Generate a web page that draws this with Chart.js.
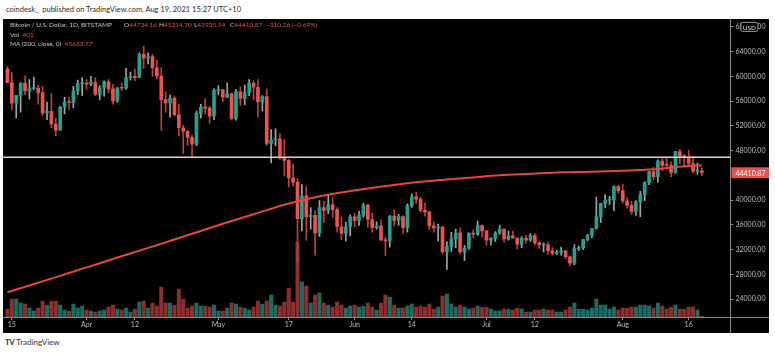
<!DOCTYPE html>
<html>
<head>
<meta charset="utf-8">
<script src="https://cdn.jsdelivr.net/npm/chart.js@4.4.0/dist/chart.umd.min.js"></script>
<style>
html, body { margin: 0; padding: 0; background: #fff; }
body { width: 775px; height: 353px; position: relative; overflow: hidden; font-family: Lato, "Open Sans", sans-serif; }
#head { position: absolute; left: 6px; top: 4.5px; font-size: 7.5px; color: #2b2b2b; white-space: nowrap; }
#panel { position: absolute; left: 3px; top: 19px; width: 766px; height: 314px; background: #000; }
#panel canvas { position: absolute; left: 0; top: 0; }
.leg { position: absolute; font-size: 6.5px; color: #c8c8c8; white-space: nowrap; line-height: 9px; }
.v { color: #e5524d; }
#foot { position: absolute; left: 5px; top: 337px; font-size: 8px; color: #333; white-space: nowrap; }
#foot b { font-size: 8px; letter-spacing: -0.5px; margin-right: 2px; }
</style>
</head>
<body>
<div id="head">coindesk_&nbsp; published on TradingView.com, Aug 19, 2021 15:27 UTC+10</div>
<div id="panel"><canvas id="chart" width="766" height="314"></canvas></div>
<div class="leg" style="left:10px;top:20px">Bitcoin / U.S. Dollar, 1D, BITSTAMP</div>
<div class="leg" style="left:124px;top:20px">O<span class="v">44734.16</span></div>
<div class="leg" style="left:159px;top:20px">H<span class="v">45214.70</span></div>
<div class="leg" style="left:194px;top:20px">L<span class="v">43935.54</span></div>
<div class="leg" style="left:230px;top:20px">C<span class="v">44410.87</span></div>
<div class="leg v" style="left:266px;top:20px">−310.26 (−0.69%)</div>
<div class="leg" style="left:10px;top:29.5px">Vol&nbsp; <span class="v">401</span></div>
<div class="leg" style="left:10px;top:39px">MA (200, close, 0)&nbsp; <span class="v">45633.77</span></div>
<div id="foot"><b>TV</b>TradingView</div>
<script>
// BTC/USD daily, Bitstamp, 14 Mar - 19 Aug 2021
var opens = [
  61170,59000,55650,56930,58920,57650,58030,58100,57380,54100,54360,52300,51310,55050,55850,55780,57630,58780,
  58800,58740,58990,57080,58200,59120,57970,56050,58100,58080,59800,59960,59840,63580,62960,63220,61380,60030,56250,55700,56490,53800,51700,51150,50110,49040,54030,55050,54860,53560,
  57700,57830,56620,57180,53210,57500,56440,57380,58900,58240,55860,56740,49150,49710,49900,46760,46430,43580,42900,37000,40700,37300,37520,34700,38800,38320,39240,38470,35680,34640,35680,
  37300,36690,37570,39190,36850,35520,35800,33570,33400,37390,36690,37340,35550,39100,40530,40150,38340,38090,35830,35500,35620,31630,32510,33690,34690,31620,32240,34680,34480,35880,
  35030,33530,33800,34690,35290,33700,34210,33860,32880,33810,33510,34250,33080,32730,32820,31800,31390,31520,31780,30830,29800,32140,32310,33600,34270,35400,37270,39460,40000,40030,42200,
  41500,39850,39150,38180,39720,40870,42840,44600,43800,46300,45600,45590,44430,47840,47110,47010,45910,44690,44734.16
];
var highs = [
  61600,60600,56900,58950,60100,59500,59900,58600,58400,55850,57200,53200,55100,56600,56600,58400,59400,59800,
  59500,60000,59800,58500,59300,59500,58700,58200,58900,61300,60700,61200,63800,64900,63800,63550,62600,61400,57500,57000,56800,55500,52100,51200,50500,54400,55500,56400,55200,58000,
  58500,57900,58900,57200,57900,58300,58600,59500,59300,59500,56900,58000,51400,51500,50700,49800,46600,45800,43500,42500,42200,38800,38300,39900,39800,40800,40400,38800,37300,36400,37600,
  37900,38200,39500,39300,37900,36500,36800,34000,37500,38400,37700,37500,39400,41000,41300,40500,39500,38200,36500,36100,35750,33300,34800,35300,35500,32700,34700,35200,36600,36000,
  35100,33950,34900,35900,35300,35000,35000,33900,34100,34300,34600,34600,33300,33100,33200,32300,31900,32400,31900,31000,32800,32600,33600,34500,35400,40500,39500,40900,40600,42300,42400,
  42600,40400,39800,39900,41400,43000,44700,45300,46500,46700,46800,46200,47900,48200,47400,48100,47100,46000,45214.70
];
var lows = [
  58950,54600,53300,54200,57000,56300,57800,55500,53700,53000,51700,50400,51300,53950,54700,54900,57050,56900,
  57900,58500,56900,56200,56800,57400,55500,55800,57700,57900,59400,59300,59800,61300,62000,60000,59600,51300,54200,53400,53600,50400,47500,48800,46900,48800,53300,53900,52400,53000,
  57000,55900,56500,53000,52900,55300,55400,56900,56200,53400,54400,48800,46000,48800,46600,43900,42100,42300,30000,35000,33500,35300,31100,34100,36400,37800,37200,34800,33600,33400,34200,
  35700,35900,37200,35600,34800,35300,33400,31000,32400,35800,35900,34600,34800,38800,39500,38100,37400,35200,34800,33400,31300,28800,31700,32300,31300,30200,32000,33900,34300,34000,
  32700,32700,33300,34500,33200,33500,33800,32100,32300,33000,33300,32700,32200,31600,31200,31100,31200,31100,30500,29300,29500,31800,32000,33400,33900,35300,36400,38800,39300,38300,41100,
  39500,38700,37700,37500,37300,39900,42500,43300,42900,44700,45400,43800,44300,45900,45600,45500,44400,44200,43935.54
];
var closes = [
  59000,55650,56930,58920,57650,58030,58100,57380,54100,54360,52300,51310,55050,55850,55780,57630,58780,58800,
  58740,58990,57080,58200,59120,57970,56050,58100,58080,59800,59960,59840,63580,62960,63220,61380,60030,56250,55700,56490,53800,51700,51150,50110,49040,54030,55050,54860,53560,57700,
  57830,56620,57180,53210,57500,56440,57380,58900,58240,55860,56740,49150,49710,49900,46760,46430,43580,42900,37000,40700,37300,37520,34700,38800,38320,39240,38470,35680,34640,35680,37300,
  36690,37570,39190,36850,35520,35800,33570,33400,37390,36690,37340,35550,39100,40530,40150,38340,38090,35830,35500,35620,31630,32510,33690,34690,31620,32240,34680,34480,35880,35030,
  33530,33800,34690,35290,33700,34210,33860,32880,33810,33510,34250,33080,32730,32820,31800,31390,31520,31780,30830,29800,32140,32310,33600,34270,35400,37270,39460,40000,40030,42200,41500,
  39850,39150,38180,39720,40870,42840,44600,43800,46300,45600,45590,44430,47840,47110,47010,45910,44690,44730,44410.87
];
// volume in BTC
var volumes = [
  4000,9000,9000,7000,6500,4500,3000,4500,8000,6000,8000,8000,6000,3500,3000,6500,4500,5500,
  3500,3000,2500,3000,3500,5000,6000,4000,3500,4500,2500,4000,7500,8000,4500,7000,5500,15000,7000,7000,6000,14000,9000,4500,5500,7000,5500,5500,5000,6000,
  3000,3000,4500,7000,6500,5000,4500,3500,5000,8000,6500,8000,11000,6000,5500,7500,14500,7500,37500,17500,15500,7000,11000,12000,7000,6000,5000,7500,6000,4500,5500,
  6000,5000,5500,7000,5000,3500,7000,11000,10000,6000,4500,4500,5500,6500,5000,5500,5000,6500,4000,5000,10500,11500,6500,5000,6000,5000,4000,4500,5500,5000,
  5000,4000,3000,3000,4000,4000,3500,4500,4000,2500,2500,3500,3500,4000,3500,3500,2500,2500,3500,5000,7000,4000,4000,3500,4500,9000,6000,6000,4000,5000,3500,
  4500,4500,5000,5000,6000,6000,5500,4500,7000,5500,4000,5000,6000,4000,4000,5000,5000,3500,401
];
// MA (200) read at weekly points
var maDates = ['2021-03-14','2021-03-21','2021-03-28','2021-04-04','2021-04-11','2021-04-18','2021-04-25','2021-05-02',
  '2021-05-09','2021-05-16','2021-05-23','2021-05-30','2021-06-06','2021-06-13','2021-06-20','2021-06-27','2021-07-04',
  '2021-07-11','2021-07-18','2021-07-25','2021-08-01','2021-08-08','2021-08-15','2021-08-19'];
var maValues = [25100,26630,28200,29790,31370,32940,34550,36170,37700,39240,40450,41340,42070,42710,43200,43600,44010,
  44250,44490,44570,44730,44980,45460,45634];
var levelLine = 46920;
var priceTicks = [24000,28000,32000,36000,40000,48000,52000,56000,60000,64000,68000];
var tickDates = ['2021-03-15','2021-04-01','2021-04-12','2021-05-01','2021-05-17','2021-06-01','2021-06-14','2021-07-01','2021-07-12','2021-08-01','2021-08-16'];
var tickTexts = ['15','Apr','12','May','17','Jun','14','Jul','12','Aug','16'];
var padDays = 6;

var labels = [];
var day0 = Date.UTC(2021, 2, 14);
for (var i = 0; i < closes.length + padDays; i++) {
  labels.push(new Date(day0 + i * 86400000).toISOString().slice(0, 10));
}

var upColor = '#23a08f', downColor = '#ea5450';
var upWick = '#98aaa6', downWick = '#b8443f';
var volUp = '#1c6b62', volDown = '#8a2e2e';
var axisGrey = '#8a8a8a', textGrey = '#bdbdbd';
var font = { family: 'Lato, "Open Sans", sans-serif', size: 7 };

var isUp = closes.map(function (c, i) { return c >= opens[i]; });

var overlay = {
  id: 'overlay',
  afterDraw: function (chart) {
    var ctx = chart.ctx, area = chart.chartArea, y = chart.scales.y;
    var W = chart.width, H = chart.height;
    ctx.save();
    // panel separators
    ctx.strokeStyle = axisGrey;
    ctx.lineWidth = 1;
    ctx.beginPath();
    ctx.moveTo(Math.round(area.right) + 0.5, 0);
    ctx.lineTo(Math.round(area.right) + 0.5, H);
    ctx.moveTo(0, Math.round(area.bottom) + 0.5);
    ctx.lineTo(W, Math.round(area.bottom) + 0.5);
    ctx.stroke();
    // horizontal level
    var ly = y.getPixelForValue(levelLine);
    ctx.strokeStyle = '#d8d8d8';
    ctx.lineWidth = 1.5;
    ctx.beginPath();
    ctx.moveTo(area.left - 2, ly);
    ctx.lineTo(area.right, ly);
    ctx.stroke();
    // last price tag
    var last = closes[closes.length - 1];
    var py = y.getPixelForValue(last);
    ctx.fillStyle = '#e5524d';
    ctx.fillRect(area.right + 1, py - 5.5, W - area.right - 1, 11);
    ctx.fillStyle = '#fff';
    ctx.font = '7px ' + font.family;
    ctx.textBaseline = 'middle';
    ctx.fillText(last.toFixed(2), area.right + 5, py + 0.5);
    // USD box
    var uy = y.getPixelForValue(68000);
    ctx.fillStyle = '#000';
    ctx.strokeStyle = '#9a9a9a';
    ctx.lineWidth = 1;
    ctx.beginPath();
    ctx.roundRect(area.right + 10.5, uy - 4.5, 17, 9, 2);
    ctx.fill();
    ctx.stroke();
    ctx.fillStyle = '#e0e0e0';
    ctx.font = '6.5px ' + font.family;
    ctx.textAlign = 'center';
    ctx.fillText('USD', area.right + 19, uy + 0.5);
    ctx.restore();
  }
};

new Chart(document.getElementById('chart'), {
  type: 'bar',
  data: {
    labels: labels,
    datasets: [
      {
        label: 'Volume', data: volumes, yAxisID: 'yv', grouped: false, order: 5,
        backgroundColor: isUp.map(function (u) { return u ? volUp : volDown; }),
        barThickness: 3.4, borderWidth: 0
      },
      {
        label: 'Wick', data: lows.map(function (l, i) { return [l, highs[i]]; }), yAxisID: 'y', grouped: false, order: 4,
        backgroundColor: isUp.map(function (u) { return u ? upWick : downWick; }),
        barThickness: 1, borderWidth: 0
      },
      {
        label: 'Body', data: opens.map(function (o, i) { return [o, closes[i]]; }), yAxisID: 'y', grouped: false, order: 3,
        backgroundColor: isUp.map(function (u) { return u ? upColor : downColor; }),
        barThickness: 3, minBarLength: 1, borderWidth: 0
      },
      {
        type: 'line', label: 'MA 200', yAxisID: 'y', order: 2,
        data: maDates.map(function (d, i) { return { x: d, y: maValues[i] }; }),
        borderColor: '#e5473d', borderWidth: 2, pointRadius: 0, tension: 0.3, fill: false
      }
    ]
  },
  options: {
    responsive: false,
    animation: false,
    layout: { padding: { left: 2.25, top: 0, right: 0, bottom: 0 } },
    plugins: { legend: { display: false }, tooltip: { enabled: false } },
    scales: {
      x: {
        type: 'category', offset: true,
        grid: {
          offset: false, drawOnChartArea: false, drawTicks: true, tickLength: 3,
          color: function (c) { return tickDates.indexOf(labels[c.index]) >= 0 ? axisGrey : 'rgba(0,0,0,0)'; }
        },
        border: { display: false },
        ticks: {
          autoSkip: false, maxRotation: 0, minRotation: 0, padding: 1, color: textGrey, font: font,
          callback: function (v, i) { var k = tickDates.indexOf(labels[i]); return k < 0 ? '' : tickTexts[k]; }
        },
        afterFit: function (s) { s.height = 16; s.paddingLeft = 0; s.paddingRight = 0; }
      },
      y: {
        type: 'linear', position: 'right', min: 21090, max: 69280,
        afterBuildTicks: function (s) { s.ticks = priceTicks.map(function (v) { return { value: v }; }); },
        grid: { drawOnChartArea: false, drawTicks: true, tickLength: 3, color: axisGrey },
        border: { display: false },
        ticks: { padding: 2, color: textGrey, font: font, callback: function (v) { return Number(v).toFixed(2); } },
        afterFit: function (s) { s.width = 38.6; s.paddingTop = 0; s.paddingBottom = 0; }
      },
      yv: { type: 'linear', display: false, min: 0, max: 149000 }
    }
  },
  plugins: [overlay]
});
</script>
</body>
</html>
